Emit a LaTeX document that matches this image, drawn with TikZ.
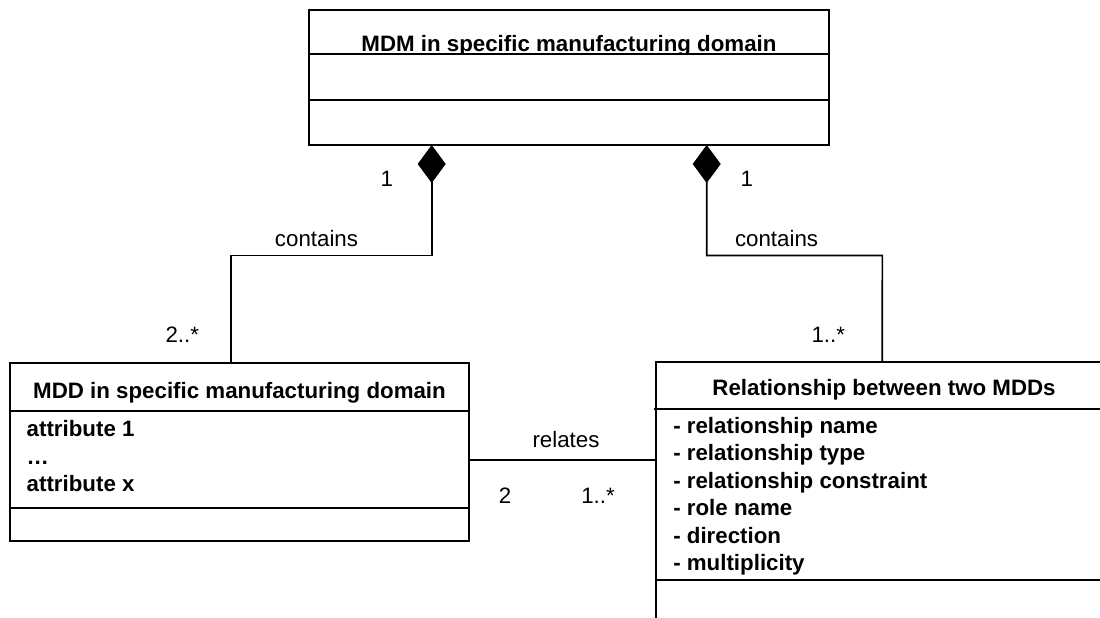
\documentclass[tikz,border=0pt]{standalone}
\usepackage{fontspec}
\setmainfont{Liberation Sans}
\usetikzlibrary{arrows.meta}
\begin{document}
\begin{tikzpicture}[x=1pt,y=-1pt,
  every node/.style={font=\fontsize{22.3pt}{27.5pt}\selectfont, inner sep=0pt, outer sep=0pt},
  umlbox/.style={draw, line width=2pt, rectangle, anchor=north west},
  divline/.style={line width=2pt},
  titletext/.style={font=\fontsize{22.3pt}{27.5pt}\selectfont\bfseries, anchor=base},
  attrtext/.style={font=\fontsize{22.3pt}{27.5pt}\selectfont\bfseries, anchor=base west},
  lbl/.style={anchor=base},
  assoc/.style={line width=1.6pt},
  comp/.style={assoc, {Diamond[length=38pt,width=28pt]}-}
]
\useasboundingbox (0,0) rectangle (1100,618);

% top class
\node[umlbox, minimum width=520pt, minimum height=135pt] (mdm) at (309,10) {};
\draw[divline] ([yshift=-44.3pt]mdm.north west) -- ([yshift=-44.3pt]mdm.north east);
\draw[divline] ([yshift=-89.7pt]mdm.north west) -- ([yshift=-89.7pt]mdm.north east);
\begin{scope}
  \clip (309,10) rectangle (829,54);
  \node[titletext] (mdmt) at (569,51.7) {MDM in specific manufacturing domain};
\end{scope}

% left class
\node[umlbox, minimum width=459pt, minimum height=178pt] (mdd) at (10,363) {};
\draw[divline] ([yshift=-48pt]mdd.north west) -- ([yshift=-48pt]mdd.north east);
\draw[divline] ([yshift=-144.7pt]mdd.north west) -- ([yshift=-144.7pt]mdd.north east);
\node[titletext] (mddt) at (239.5,398) {MDD in specific manufacturing domain};
\node[attrtext] (a1) at (26.7,436.5) {attribute 1};
\node[attrtext] (a2) at (26.7,464) {…};
\node[attrtext] (a3) at (26.7,491.5) {attribute x};

% right class (extends past the picture edge)
\node[umlbox, minimum width=456.3pt, minimum height=290pt] (rel) at (655.7,362.3) {};
\draw[divline] ([xshift=-2pt,yshift=-46.7pt]rel.north west) -- ([yshift=-46.7pt]rel.north east);
\draw[divline] ([yshift=-217.7pt]rel.north west) -- ([yshift=-217.7pt]rel.north east);
\node[titletext] (relt) at (884,395) {Relationship between two MDDs};
\node[attrtext] (r1) at (673.3,433.3) {- relationship name};
\node[attrtext] (r2) at (673.3,460.8) {- relationship type};
\node[attrtext] (r3) at (673.3,488.3) {- relationship constraint};
\node[attrtext] (r4) at (673.3,515.8) {- role name};
\node[attrtext] (r5) at (673.3,543.3) {- direction};
\node[attrtext] (r6) at (673.3,570.8) {- multiplicity};

% compositions
\draw[comp] ([xshift=-137.3pt]mdm.south) |- (230.7,255.5) -- ([xshift=-8.8pt]mdd.north);
\draw[comp] ([xshift=137.7pt]mdm.south) |- (882.3,255.5) -- ([xshift=-1.6pt]rel.north);

% association
\draw[assoc] ([yshift=-8pt]mdd.east) -- ([yshift=-8pt]mdd.east -| rel.west);

% labels
\node[lbl] (m1) at (386.7,186) {1};
\node[lbl] (c1) at (316.5,246) {contains};
\node[anchor=base east] (m2) at (199,342) {2..*};
\node[lbl] (m3) at (746.7,186) {1};
\node[anchor=base west] (c2) at (735,246) {contains};
\node[anchor=base east] (m4) at (845,342) {1..*};
\node[lbl] (ra) at (566,447) {relates};
\node[lbl] (m5) at (505,503) {2};
\node[lbl] (m6) at (598,503) {1..*};
\end{tikzpicture}
\end{document}
